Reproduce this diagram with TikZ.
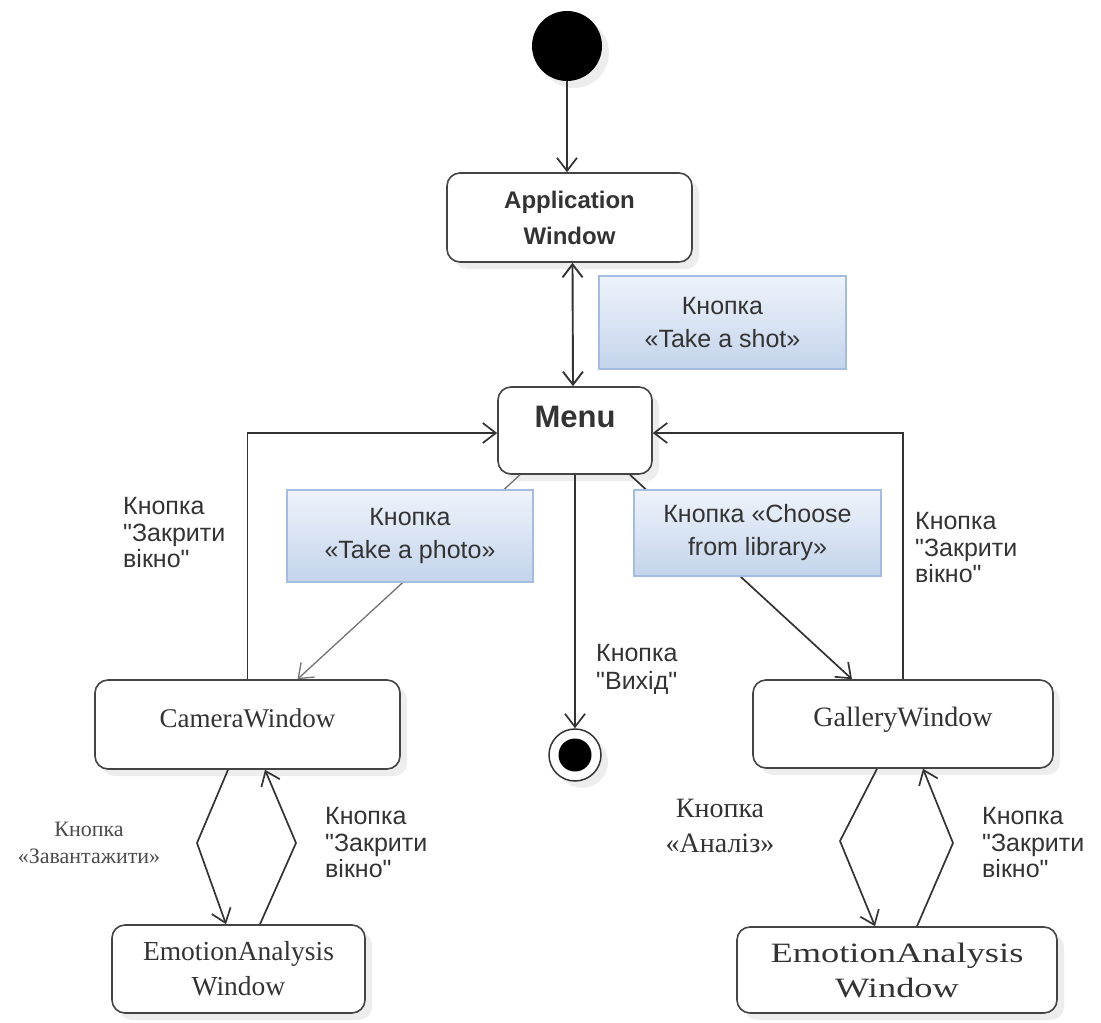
\documentclass[tikz,border=0pt]{standalone}
\usepackage{fontspec}
\setmainfont{Liberation Serif}
\setsansfont{Liberation Sans}[Ligatures=TeXOff]
\newfontfamily\wideserif[FakeStretch=1.3]{Liberation Serif}
\usetikzlibrary{arrows.meta,shadows}
\definecolor{ink}{HTML}{333333}
\definecolor{boxline}{HTML}{444444}
\definecolor{notetop}{HTML}{EEF3FB}
\definecolor{notebot}{HTML}{C4D4EB}
\definecolor{noteline}{HTML}{A3BCE0}
\tikzset{
  sh/.style={drop shadow={shadow xshift=7pt,shadow yshift=-7pt,fill=black!7,opacity=1}},
  win/.style={draw=boxline,line width=1.6pt,rounded corners=13pt,fill=white,sh,
    inner sep=0pt,align=center,text=ink},
  note/.style={draw=noteline,line width=1.2pt,top color=notetop,bottom color=notebot,
    inner sep=0pt,align=center,text=ink,font=\sffamily\fontsize{25}{33}\selectfont},
  lbl/.style={inner sep=0pt,align=left,anchor=west,text=ink,
    font=\sffamily\fontsize{25}{26.5}\selectfont},
  tip/.style={-{Straight Barb[length=13pt,width=20pt]}},
  arr/.style={draw=ink,line width=1.7pt,tip},
  darr/.style={draw=ink,line width=1.9pt,{Straight Barb[length=13pt,width=20pt]}-{Straight Barb[length=13pt,width=20pt]}},
  garr/.style={draw=black!55,line width=1.3pt,tip},
}
\begin{document}
\begin{tikzpicture}[x=1pt,y=-1pt]
\useasboundingbox (0,0) rectangle (1101,1023);
% states
\node[circle,fill=black,minimum size=70pt,inner sep=0pt,sh] (start) at (567,46) {};
\node[win,minimum width=245pt,minimum height=89pt,
  font=\sffamily\bfseries\fontsize{24}{36}\selectfont] (app) at (569.5,217.5) {Application\\Window};
\node[win,minimum width=154pt,minimum height=87pt,text height=40pt,text depth=47pt,
  font=\sffamily\bfseries\fontsize{31}{36}\selectfont] (menu) at (575,430.5) {Menu};
\node[win,minimum width=305pt,minimum height=89pt,text height=47pt,text depth=42pt,
  font=\fontsize{27}{35}\selectfont] (cam) at (247.5,724.5) {CameraWindow};
\node[win,minimum width=300pt,minimum height=88pt,text height=46pt,text depth=42pt,
  font=\fontsize{28}{35}\selectfont] (gal) at (903,724) {GalleryWindow};
\node[win,minimum width=253pt,minimum height=88pt,
  font=\fontsize{27.5}{35}\selectfont] (ea1) at (238.5,969) {EmotionAnalysis\\Window};
\node[win,minimum width=320pt,minimum height=86pt,
  font=\wideserif\fontsize{28}{35}\selectfont] (ea2) at (897,970) {EmotionAnalysis\\Window};
\node[circle,draw=ink,line width=1.5pt,minimum size=52pt,inner sep=0pt,fill=white,sh,
  path picture={\fill[black] (path picture bounding box.center) circle (16.5pt);}] (end) at (575,755) {};
% transitions
\draw[arr] (start) -- (start |- app.north);
\draw[darr] ([xshift=3pt]app.south) -- ([xshift=-2pt]menu.north);
\draw[garr] ([xshift=-55pt]menu.south) -- ([xshift=50pt]cam.north);
\draw[arr] ([xshift=55pt]menu.south) -- ([xshift=-51pt]gal.north);
\draw[arr] (end |- menu.south) -- (end.north);
\draw[arr] (cam.north) |- ([yshift=-2.5pt]menu.west);
\draw[arr] (gal.north) |- ([yshift=-2.5pt]menu.east);
\draw[arr] ([xshift=-19.5pt]cam.south) -- (197,843) -- ([xshift=-12.5pt]ea1.north);
\draw[arr] ([xshift=21.5pt]ea1.north) -- (296,843) -- ([xshift=17.5pt]cam.south);
\draw[arr] ([xshift=-26pt]gal.south) -- (840,841) -- ([xshift=-22pt]ea2.north);
\draw[arr] ([xshift=20pt]ea2.north) -- (953,843) -- ([xshift=20pt]gal.south);
% notes
\node[note,minimum width=247pt,minimum height=93pt] (shot) at (722.5,322.5) {Кнопка\\«Take a shot»};
\node[note,minimum width=246pt,minimum height=92pt] (photo) at (410,536) {Кнопка\\«Take a photo»};
\node[note,minimum width=247pt,minimum height=86pt] (lib) at (757.5,533) {Кнопка «Choose\\from library»};
% labels
\node[lbl] (l1) at (123,533) {Кнопка\\"Закрити\\вікно"};
\node[lbl] (l2) at (915,548) {Кнопка\\"Закрити\\вікно"};
\node[lbl,font=\sffamily\fontsize{25}{28}\selectfont] (l3) at (596,669) {Кнопка\\"Вихід"};
\node[lbl] (l4) at (325,843) {Кнопка\\"Закрити\\вікно"};
\node[lbl] (l5) at (982,843) {Кнопка\\"Закрити\\вікно"};
\node[inner sep=0pt,align=center,text=black!70,font=\fontsize{22}{27}\selectfont] (l6) at (89,843) {Кнопка\\«Завантажити»};
\node[inner sep=0pt,align=center,text=ink,font=\fontsize{28}{35}\selectfont] (l7) at (720,826) {Кнопка\\«Аналіз»};
\end{tikzpicture}
\end{document}
